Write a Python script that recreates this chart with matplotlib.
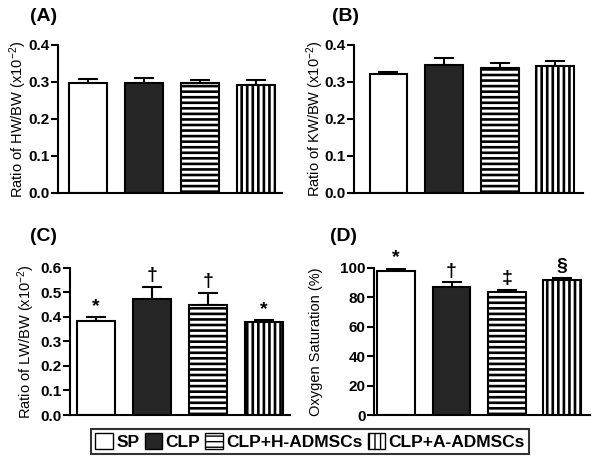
import matplotlib
matplotlib.use("Agg")
import matplotlib.pyplot as plt
from matplotlib.patches import Patch

plt.rcParams['font.family'] = ['Liberation Sans', 'DejaVu Sans']
plt.rcParams['mathtext.fontset'] = 'custom'
plt.rcParams['mathtext.rm'] = 'Liberation Sans'
plt.rcParams['mathtext.it'] = 'Liberation Sans:italic'
plt.rcParams['mathtext.bf'] = 'Liberation Sans:bold'
plt.rcParams['hatch.linewidth'] = 1.9

# donnees
groupes = ['SP', 'CLP', 'CLP+H-ADMSCs', 'CLP+A-ADMSCs']

hw_moy = [0.298, 0.297, 0.298, 0.293]
hw_err = [0.011, 0.014, 0.007, 0.012]

kw_moy = [0.321, 0.346, 0.339, 0.344]
kw_err = [0.006, 0.020, 0.012, 0.013]

lw_moy = [0.382, 0.475, 0.447, 0.379]
lw_err = [0.016, 0.047, 0.051, 0.007]
lw_sig = ['*', '\u2020', '\u2020', '*']

o2_moy = [98.0, 87.3, 83.6, 91.8]
o2_err = [1.5, 2.9, 1.2, 1.6]
o2_sig = ['*', '\u2020', '\u2021', '\u00a7']

couleurs = ['white', '#262626', 'white', 'white']
hachures = ['', '', '---', '|||']


def panneau(fig, rect, moy, err, sig, ylim, yticks, labels, ylabel, xlab, lettre, lettre_pos, xlim):
    ax = fig.add_axes(rect)
    x = list(range(len(moy)))
    ax.bar(x, moy, width=0.68, color=couleurs, hatch=hachures,
           edgecolor='black', linewidth=1.5, zorder=2)
    ax.errorbar(x, moy, yerr=[[0] * len(moy), err], fmt='none', ecolor='black',
                elinewidth=1.5, capsize=7.5, capthick=1.5, zorder=1)
    if sig is not None:
        for xi, m, e, s in zip(x, moy, err, sig):
            ax.annotate(s, (xi, m + e), xytext=(0, 2), textcoords='offset points',
                        ha='center', va='bottom', fontsize=14, fontweight='bold')
    ax.set_ylim(*ylim)
    ax.set_xlim(*xlim)
    ax.set_yticks(yticks)
    ax.set_yticklabels(labels, fontsize=11, fontweight='bold')
    ax.set_xticks([])
    for s in ['top', 'right']:
        ax.spines[s].set_visible(False)
    for s in ['left', 'bottom']:
        ax.spines[s].set_linewidth(1.5)
    ax.tick_params(axis='y', direction='out', length=5, width=1.5, pad=1)
    fig.text(xlab, rect[1] + rect[3] / 2, ylabel, rotation=90, ha='center',
             va='center', fontsize=10.5)
    fig.text(lettre_pos[0], lettre_pos[1], lettre, ha='left', va='center',
             fontsize=14, fontweight='bold')
    return ax


fig = plt.figure(figsize=(6, 4.73), dpi=100)

r4 = [0.0, 0.1, 0.2, 0.3, 0.4]
l4 = ['0.0', '0.1', '0.2', '0.3', '0.4']
r6 = [0.0, 0.1, 0.2, 0.3, 0.4, 0.5, 0.6]
l6 = ['0.0', '0.1', '0.2', '0.3', '0.4', '0.5', '0.6']
r100 = [0, 20, 40, 60, 80, 100]
l100 = ['0', '20', '40', '60', '80', '100']

panneau(fig, [0.0967, 0.592, 0.373, 0.313], hw_moy, hw_err, None, (0, 0.4), r4, l4,
        'Ratio of HW/BW (x10$^{-2}$)', 0.03, '(A)', (0.05, 0.965), (-0.54, 3.46))
panneau(fig, [0.59, 0.592, 0.382, 0.313], kw_moy, kw_err, None, (0, 0.4), r4, l4,
        'Ratio of KW/BW (x10$^{-2}$)', 0.526, '(B)', (0.553, 0.965), (-0.62, 3.5))
panneau(fig, [0.1167, 0.1226, 0.3667, 0.311], lw_moy, lw_err, lw_sig, (0, 0.6), r6, l6,
        'Ratio of LW/BW (x10$^{-2}$)', 0.043, '(C)', (0.05, 0.5), (-0.47, 3.47))
panneau(fig, [0.6233, 0.1226, 0.36, 0.311], o2_moy, o2_err, o2_sig, (0, 100), r100, l100,
        'Oxygen Saturation (%)', 0.526, '(D)', (0.55, 0.5), (-0.4, 3.5))

poignees = [Patch(facecolor=c, edgecolor='black', hatch=h, linewidth=1.0)
            for c, h in zip(couleurs, hachures)]
plt.rcParams['hatch.linewidth'] = 1.0
leg = fig.legend(poignees, groupes, loc='center', bbox_to_anchor=(0.517, 0.0666), ncol=4,
                 prop={'weight': 'bold', 'size': 12.5}, handlelength=1.0, handleheight=1.0,
                 handletextpad=0.2, columnspacing=0.3, borderpad=0.25, fancybox=False,
                 framealpha=1, edgecolor='#333333')
leg.get_frame().set_linewidth(1.5)

fig.savefig('out.png', dpi=100)
